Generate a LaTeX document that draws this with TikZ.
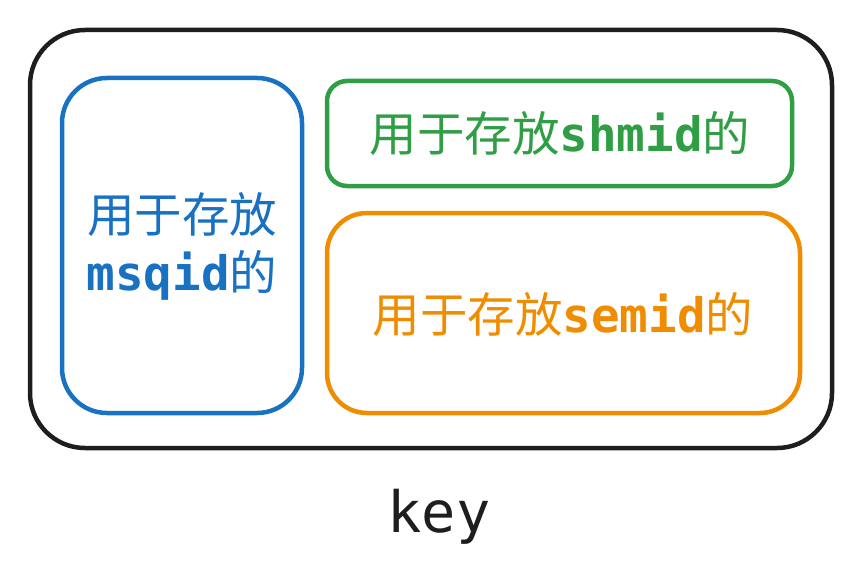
\documentclass[tikz,border=0pt]{standalone}
\usepackage{fontspec}
\setmainfont{Noto Sans CJK SC}
\newfontfamily\cjk{Noto Sans CJK SC}
\newfontfamily\mono{DejaVu Sans Mono}
\definecolor{cblack}{HTML}{1E1E1E}
\definecolor{cblue}{HTML}{1971C2}
\definecolor{cgreen}{HTML}{2F9E44}
\definecolor{corange}{HTML}{F08C00}
\begin{document}
\begin{tikzpicture}[x=1pt,y=-1pt,
  box/.style={line width=4.5pt, rounded corners=#1},
  lbl/.style={font=\cjk\fontsize{47.5}{58}\selectfont, align=center, inner sep=0pt}]
\useasboundingbox (0,0) rectangle (861,580);
\draw[box=55pt, cblack] (30,30) rectangle (832,448);
\draw[box=45pt, cblue] (62,78) rectangle (302,413);
\draw[box=20pt, cgreen] (327,81) rectangle (792,186);
\draw[box=40pt, corange] (327,213) rectangle (800,413);
\node[lbl, text=cblue] (t1) at (182,246) {用于存放\\{\mono\bfseries msqid}的};
\node[lbl, text=cgreen] (t2) at (560,133) {用于存放{\mono\bfseries shmid}的};
\node[lbl, text=corange] (t3) at (563,314) {用于存放{\mono\bfseries semid}的};
\node[font=\mono\fontsize{57}{64}\selectfont, text=cblack, inner sep=0pt] (k) at (439,517) {key};
\end{tikzpicture}
\end{document}
